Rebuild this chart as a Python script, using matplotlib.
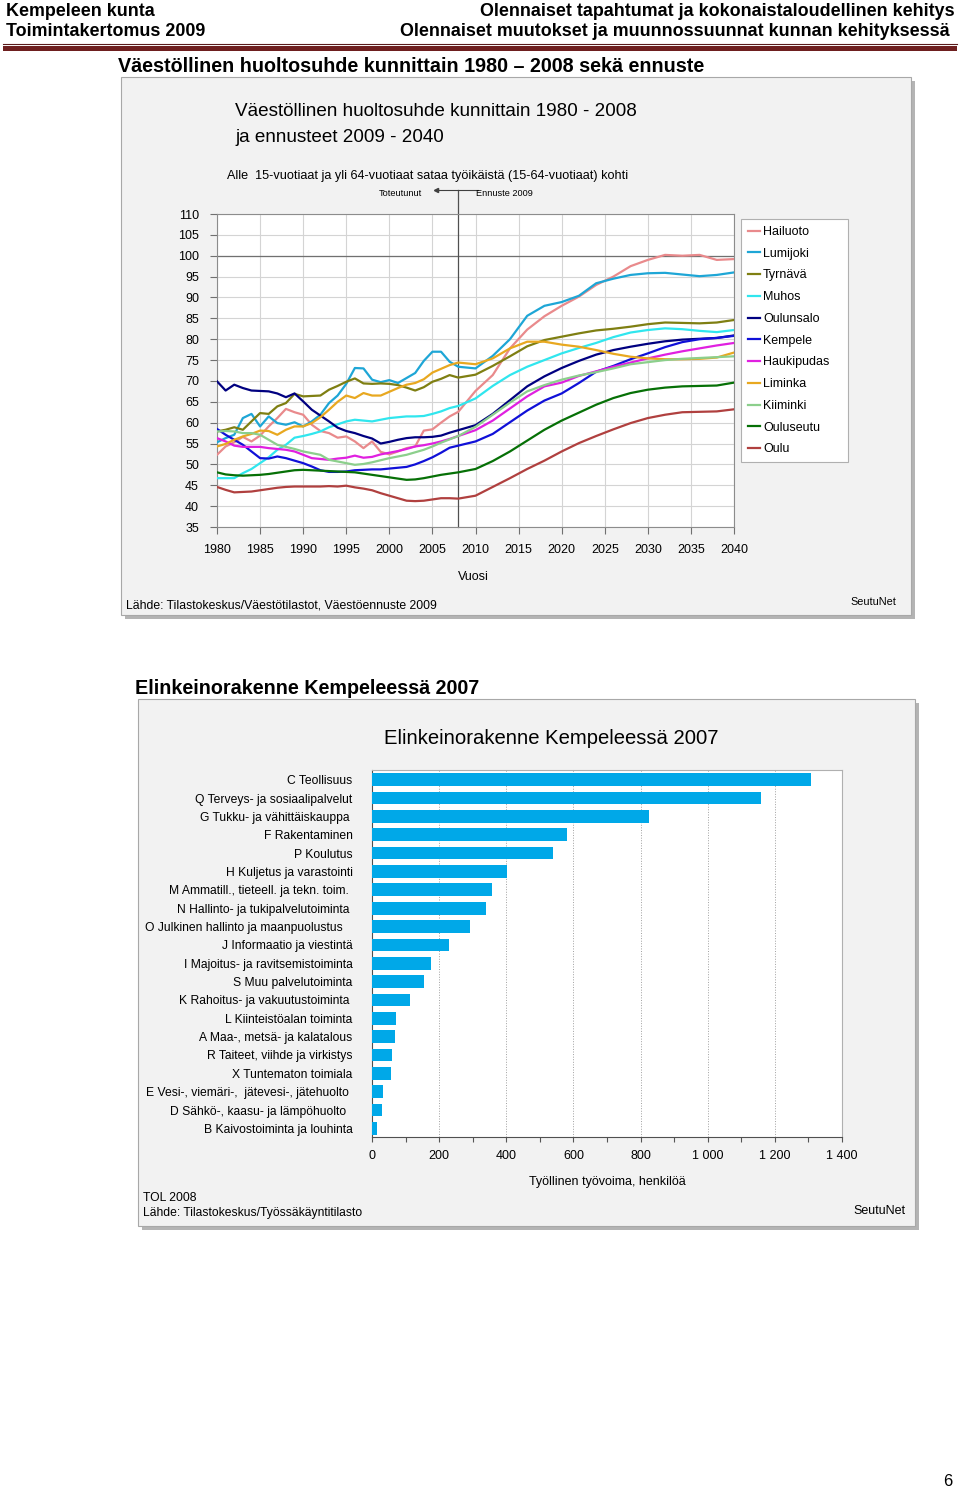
import matplotlib
matplotlib.use('Agg')
import matplotlib.pyplot as plt
from matplotlib.patches import Rectangle
from matplotlib.ticker import FuncFormatter, MultipleLocator

plt.rcParams['font.family'] = ['Liberation Sans', 'DejaVu Sans']

W, H = 960, 1488

# --- huoltosuhde data: yearly 1980-2008, every second year 2010-2040 ---
YEARS = list(range(1980, 2009)) + list(range(2010, 2041, 2))

HAILUOTO = [52.3, 54.3, 55.3, 56.6, 55.5, 56.9, 59.1, 61.1, 63.3, 62.5, 61.9, 59.5, 58.0, 57.5, 56.4,
            56.7, 55.5, 53.9, 55.5, 53.0, 52.4, 53.1, 53.9, 54.3, 58.1, 58.4, 60.0, 61.5, 62.6,
            67.6, 71.4, 77.8, 82.3, 85.5, 88.0, 90.2, 93.0, 95.0, 97.5, 99.0, 100.2, 100.0, 100.2, 99.0, 99.2]
LUMIJOKI = [55.3, 56.3, 57.1, 61.1, 62.1, 59.1, 61.5, 59.9, 59.5, 60.1, 59.1, 60.3, 61.9, 64.7, 66.5,
            69.3, 73.1, 73.0, 70.3, 69.7, 70.2, 69.5, 70.7, 71.9, 74.8, 77.0, 77.0, 74.6, 73.4,
            73.0, 76.0, 80.0, 85.6, 88.0, 88.9, 90.4, 93.4, 94.5, 95.4, 95.8, 95.9, 95.5, 95.1, 95.4, 96.0]
TYRNAVA = [57.9, 58.3, 58.9, 58.3, 60.3, 62.3, 62.1, 63.9, 64.7, 66.9, 66.3, 66.4, 66.5, 67.9, 68.8,
           69.8, 70.6, 69.4, 69.3, 69.4, 69.3, 69.0, 68.4, 67.7, 68.5, 69.8, 70.5, 71.4, 70.8,
           71.5, 73.6, 75.9, 78.3, 79.8, 80.6, 81.4, 82.1, 82.5, 83.0, 83.6, 84.0, 83.9, 83.8, 84.0, 84.6]
MUHOS = [46.7, 46.7, 46.7, 47.9, 48.9, 50.3, 51.7, 53.5, 54.7, 56.4, 56.8, 57.3, 57.9, 58.9, 59.6,
         60.3, 60.7, 60.5, 60.3, 60.7, 61.1, 61.3, 61.5, 61.5, 61.6, 62.1, 62.7, 63.5, 64.0,
         65.8, 68.8, 71.4, 73.4, 75.0, 76.6, 77.9, 79.1, 80.5, 81.6, 82.2, 82.6, 82.4, 82.0, 81.7, 82.2]
OULUNSALO = [69.9, 67.7, 69.1, 68.3, 67.7, 67.6, 67.5, 67.0, 66.1, 67.0, 65.1, 63.1, 61.7, 60.3, 58.8,
             58.0, 57.5, 56.8, 56.2, 55.0, 55.4, 55.9, 56.3, 56.5, 56.5, 56.6, 56.9, 57.6, 58.2,
             59.4, 62.1, 65.4, 68.7, 71.1, 73.1, 74.8, 76.3, 77.4, 78.2, 78.9, 79.5, 79.9, 80.1, 80.3, 80.9]
KEMPELE = [58.5, 57.1, 55.9, 54.7, 53.1, 51.5, 51.4, 51.9, 51.5, 50.9, 50.3, 49.5, 48.6, 48.2, 48.2,
           48.3, 48.6, 48.7, 48.8, 48.8, 49.0, 49.2, 49.4, 50.0, 50.8, 51.7, 52.8, 54.0, 54.5,
           55.5, 57.3, 60.1, 62.9, 65.3, 67.0, 69.5, 72.2, 73.6, 75.2, 76.6, 78.1, 79.3, 80.0, 80.3, 80.8]
HAUKIPUDAS = [56.3, 55.5, 54.5, 54.2, 54.2, 54.2, 53.9, 53.7, 53.5, 53.1, 52.3, 51.5, 51.3, 51.1, 51.4,
              51.6, 52.1, 51.6, 51.8, 52.4, 52.8, 53.2, 53.7, 54.3, 54.6, 55.0, 55.5, 56.1, 56.8,
              58.2, 60.5, 63.4, 66.3, 68.7, 69.6, 71.2, 72.3, 73.4, 74.4, 75.4, 76.3, 77.1, 77.8, 78.5, 79.1]
LIMINKA = [54.3, 54.9, 55.9, 56.7, 57.3, 58.1, 58.0, 57.1, 58.3, 59.1, 59.1, 59.9, 61.3, 63.1, 65.0,
           66.5, 65.9, 67.1, 66.5, 66.5, 67.4, 68.3, 69.1, 69.5, 70.4, 72.0, 72.9, 73.8, 74.4,
           74.0, 75.4, 77.8, 79.4, 79.4, 78.7, 78.2, 77.4, 76.5, 75.8, 75.4, 75.2, 75.2, 75.3, 75.6, 76.8]
KIIMINKI = [57.9, 58.0, 57.9, 57.5, 57.5, 57.1, 55.9, 54.7, 54.2, 53.7, 53.1, 52.7, 52.3, 51.1, 50.7,
            50.3, 49.9, 50.1, 50.5, 51.0, 51.5, 51.9, 52.3, 52.9, 53.5, 54.3, 55.2, 56.0, 56.8,
            59.0, 61.9, 64.8, 67.5, 69.0, 70.3, 71.3, 72.1, 73.0, 74.0, 74.5, 75.0, 75.3, 75.5, 75.7, 75.9]
OULUSEUTU = [48.1, 47.6, 47.4, 47.3, 47.4, 47.5, 47.7, 48.0, 48.3, 48.6, 48.7, 48.6, 48.5, 48.4, 48.3,
             48.2, 48.1, 47.8, 47.5, 47.2, 46.9, 46.6, 46.3, 46.4, 46.7, 47.1, 47.5, 47.8, 48.1,
             48.9, 50.8, 53.1, 55.7, 58.3, 60.5, 62.4, 64.3, 65.9, 67.1, 67.9, 68.4, 68.7, 68.8, 68.9, 69.6]
OULU = [44.6, 43.9, 43.3, 43.4, 43.5, 43.8, 44.1, 44.4, 44.6, 44.7, 44.7, 44.7, 44.7, 44.8, 44.7,
        44.9, 44.5, 44.2, 43.8, 43.1, 42.5, 41.9, 41.3, 41.2, 41.3, 41.6, 41.9, 41.9, 41.8,
        42.5, 44.6, 46.7, 48.9, 50.9, 53.1, 55.1, 56.8, 58.4, 59.9, 61.1, 61.9, 62.5, 62.6, 62.7, 63.2]

MUNICIPALITIES = ['Hailuoto', 'Lumijoki', 'Tyrnävä', 'Muhos', 'Oulunsalo', 'Kempele',
                  'Haukipudas', 'Liminka', 'Kiiminki', 'Ouluseutu', 'Oulu']
SERIES = [HAILUOTO, LUMIJOKI, TYRNAVA, MUHOS, OULUNSALO, KEMPELE,
          HAUKIPUDAS, LIMINKA, KIIMINKI, OULUSEUTU, OULU]
COLORS = ['#e98a8c', '#1ea6d6', '#7f7f12', '#30e6ee', '#000080', '#1010d8',
          '#e020e0', '#e8a820', '#8ccf8c', '#067006', '#b0403f']

# --- elinkeinorakenne data ---
INDUSTRIES = ['C Teollisuus', 'Q Terveys- ja sosiaalipalvelut', 'G Tukku- ja vähittäiskauppa ',
              'F Rakentaminen', 'P Koulutus', 'H Kuljetus ja varastointi',
              'M Ammatill., tieteell. ja tekn. toim. ', 'N Hallinto- ja tukipalvelutoiminta ',
              'O Julkinen hallinto ja maanpuolustus   ', 'J Informaatio ja viestintä',
              'I Majoitus- ja ravitsemistoiminta', 'S Muu palvelutoiminta',
              'K Rahoitus- ja vakuutustoiminta ', 'L Kiinteistöalan toiminta',
              'A Maa-, metsä- ja kalatalous', 'R Taiteet, viihde ja virkistys',
              'X Tuntematon toimiala', 'E Vesi-, viemäri-,  jätevesi-, jätehuolto ',
              'D Sähkö-, kaasu- ja lämpöhuolto  ', 'B Kaivostoiminta ja louhinta']
EMPLOYED = [1309, 1160, 826, 582, 538, 401, 357, 340, 292, 228,
            177, 154, 114, 70, 68, 61, 56, 34, 29, 16]


def fx(x):
    return x / W


def fy(y):
    return 1 - y / H


def add_axes_px(fig, left, top, right, bottom):
    return fig.add_axes([fx(left), fy(bottom), (right - left) / W, (bottom - top) / H])


def panel(fig, left, top, right, bottom):
    shadow = Rectangle((fx(left + 4), fy(bottom + 4)), (right - left) / W, (bottom - top) / H,
                       transform=fig.transFigure, facecolor='#b4b4b4', edgecolor='none', zorder=-3)
    box = Rectangle((fx(left), fy(bottom)), (right - left) / W, (bottom - top) / H,
                    transform=fig.transFigure, facecolor='#f2f2f2', edgecolor='#a8a8a8',
                    linewidth=0.8, zorder=-2)
    fig.add_artist(shadow)
    fig.add_artist(box)


fig = plt.figure(figsize=(W / 100, H / 100), dpi=100)
fig.patch.set_facecolor('white')

# page header
hdr = dict(fontsize=12.9, fontweight='bold', va='center', color='black')
fig.text(fx(6), fy(11), 'Kempeleen kunta', ha='left', **hdr)
fig.text(fx(6), fy(32), 'Toimintakertomus 2009', ha='left', **hdr)
fig.text(fx(955), fy(11), 'Olennaiset tapahtumat ja kokonaistaloudellinen kehitys', ha='right', **hdr)
fig.text(fx(950), fy(32), 'Olennaiset muutokset ja muunnossuunnat kunnan kehityksessä', ha='right', **hdr)
fig.add_artist(plt.Line2D([fx(3), fx(957)], [fy(44), fy(44)], transform=fig.transFigure,
                          color='#5a1a1a', lw=0.8))
fig.add_artist(Rectangle((fx(3), fy(51)), 954 / W, 5 / H, transform=fig.transFigure,
                         facecolor='#6e1f1f', edgecolor='none'))

fig.text(fx(118), fy(67), 'Väestöllinen huoltosuhde kunnittain 1980 – 2008 sekä ennuste',
         fontsize=14.2, fontweight='bold', va='center')
fig.text(fx(135), fy(688), 'Elinkeinorakenne Kempeleessä 2007',
         fontsize=14.2, fontweight='bold', va='center')
fig.text(fx(948), fy(1481), '6', fontsize=12, ha='center', va='center')

# ---------------- chart 1: huoltosuhde ----------------
panel(fig, 121, 77, 911, 615)
fig.text(fx(235), fy(112), 'Väestöllinen huoltosuhde kunnittain 1980 - 2008', fontsize=13.6, va='center')
fig.text(fx(235), fy(137), 'ja ennusteet 2009 - 2040', fontsize=13.6, va='center')
fig.text(fx(227), fy(176), 'Alle  15-vuotiaat ja yli 64-vuotiaat sataa työikäistä (15-64-vuotiaat) kohti',
         fontsize=9.1, va='center')
fig.text(fx(422), fy(193), 'Toteutunut', fontsize=6.6, ha='right', va='center')
fig.text(fx(476), fy(193), 'Ennuste 2009', fontsize=6.6, ha='left', va='center')
fig.add_artist(plt.Line2D([fx(436), fx(478)], [fy(190), fy(190)], transform=fig.transFigure,
                          color='#404040', lw=0.8))
fig.add_artist(plt.Line2D([fx(436)], [fy(190)], transform=fig.transFigure, marker='<',
                          markersize=3, color='#404040'))

ax1 = add_axes_px(fig, 217, 214, 734, 527)
ax1.set_facecolor('white')
for name, vals, col in zip(MUNICIPALITIES, SERIES, COLORS):
    ax1.plot(YEARS, vals, color=col, lw=1.6, label=name, zorder=3)
ax1.set_xlim(1980, 2040)
ax1.set_ylim(35, 110)
ax1.set_xticks(range(1980, 2041, 5))
ax1.set_yticks(range(35, 111, 5))
ax1.grid(True, color='#d4d4d4', lw=0.8, zorder=0)
ax1.axhline(100, color='#707070', lw=0.9, zorder=1)
ax1.plot([2008, 2008], [35, 115.7], color='#505050', lw=0.9, clip_on=False, zorder=2)
for sp in ax1.spines.values():
    sp.set_color('#8c8c8c')
ax1.tick_params(length=5, width=0.8, color='#707070', labelsize=9, pad=7)
ax1.tick_params(axis='y', pad=8)
ax1.set_axisbelow(True)
fig.text(fx(473), fy(577), 'Vuosi', fontsize=9, ha='center', va='center')
fig.text(fx(126), fy(605), 'Lähde: Tilastokeskus/Väestötilastot, Väestöennuste 2009',
         fontsize=8.8, va='center')
fig.text(fx(850), fy(602), 'SeutuNet', fontsize=7.8, va='center')

leg = ax1.legend(loc='upper left', bbox_to_anchor=(fx(741), fy(455), 107 / W, 236 / H),
                 bbox_transform=fig.transFigure, mode='expand', fontsize=9,
                 handlelength=1.0, handletextpad=0.2, labelspacing=0.78,
                 borderpad=0.55, borderaxespad=0, fancybox=False, framealpha=1)
leg.get_frame().set_edgecolor('#b0b0b0')
leg.get_frame().set_linewidth(0.8)

# ---------------- chart 2: elinkeinorakenne ----------------
panel(fig, 138, 699, 915, 1226)
fig.text(fx(551), fy(739), 'Elinkeinorakenne Kempeleessä 2007', fontsize=14.6,
         ha='center', va='center')

ax2 = add_axes_px(fig, 372, 770, 842, 1137)
ax2.set_facecolor('white')
pos = list(range(len(INDUSTRIES)))
ax2.barh(pos, EMPLOYED, height=0.69, color='#00a8e8', zorder=3)
ax2.set_xlim(0, 1400)
ax2.set_ylim(len(INDUSTRIES) - 0.53, -0.53)
ax2.set_yticks(pos)
ax2.set_yticklabels(INDUSTRIES, fontsize=8.7)
ax2.tick_params(axis='y', length=0, pad=14)
ax2.xaxis.set_major_locator(MultipleLocator(200))
ax2.xaxis.set_minor_locator(MultipleLocator(100))
ax2.xaxis.set_major_formatter(FuncFormatter(lambda v, p: f'{int(v):,}'.replace(',', ' ')))
ax2.tick_params(axis='x', which='both', length=3.5, width=0.8, color='#555555',
                labelsize=9, pad=6)
ax2.grid(True, axis='x', which='major', color='#a0a0a0', lw=0.7, ls=':', zorder=0)
for side in ('top', 'right'):
    ax2.spines[side].set_color('#b0b0b0')
for side in ('left', 'bottom'):
    ax2.spines[side].set_color('#505050')
ax2.set_xlabel('Työllinen työvoima, henkilöä', fontsize=9, labelpad=10)
fig.text(fx(143), fy(1198), 'TOL 2008', fontsize=8.7, va='center')
fig.text(fx(143), fy(1213), 'Lähde: Tilastokeskus/Työssäkäyntitilasto', fontsize=8.7, va='center')
fig.text(fx(853), fy(1211), 'SeutuNet', fontsize=9, va='center')

fig.savefig('out.png', dpi=100)
